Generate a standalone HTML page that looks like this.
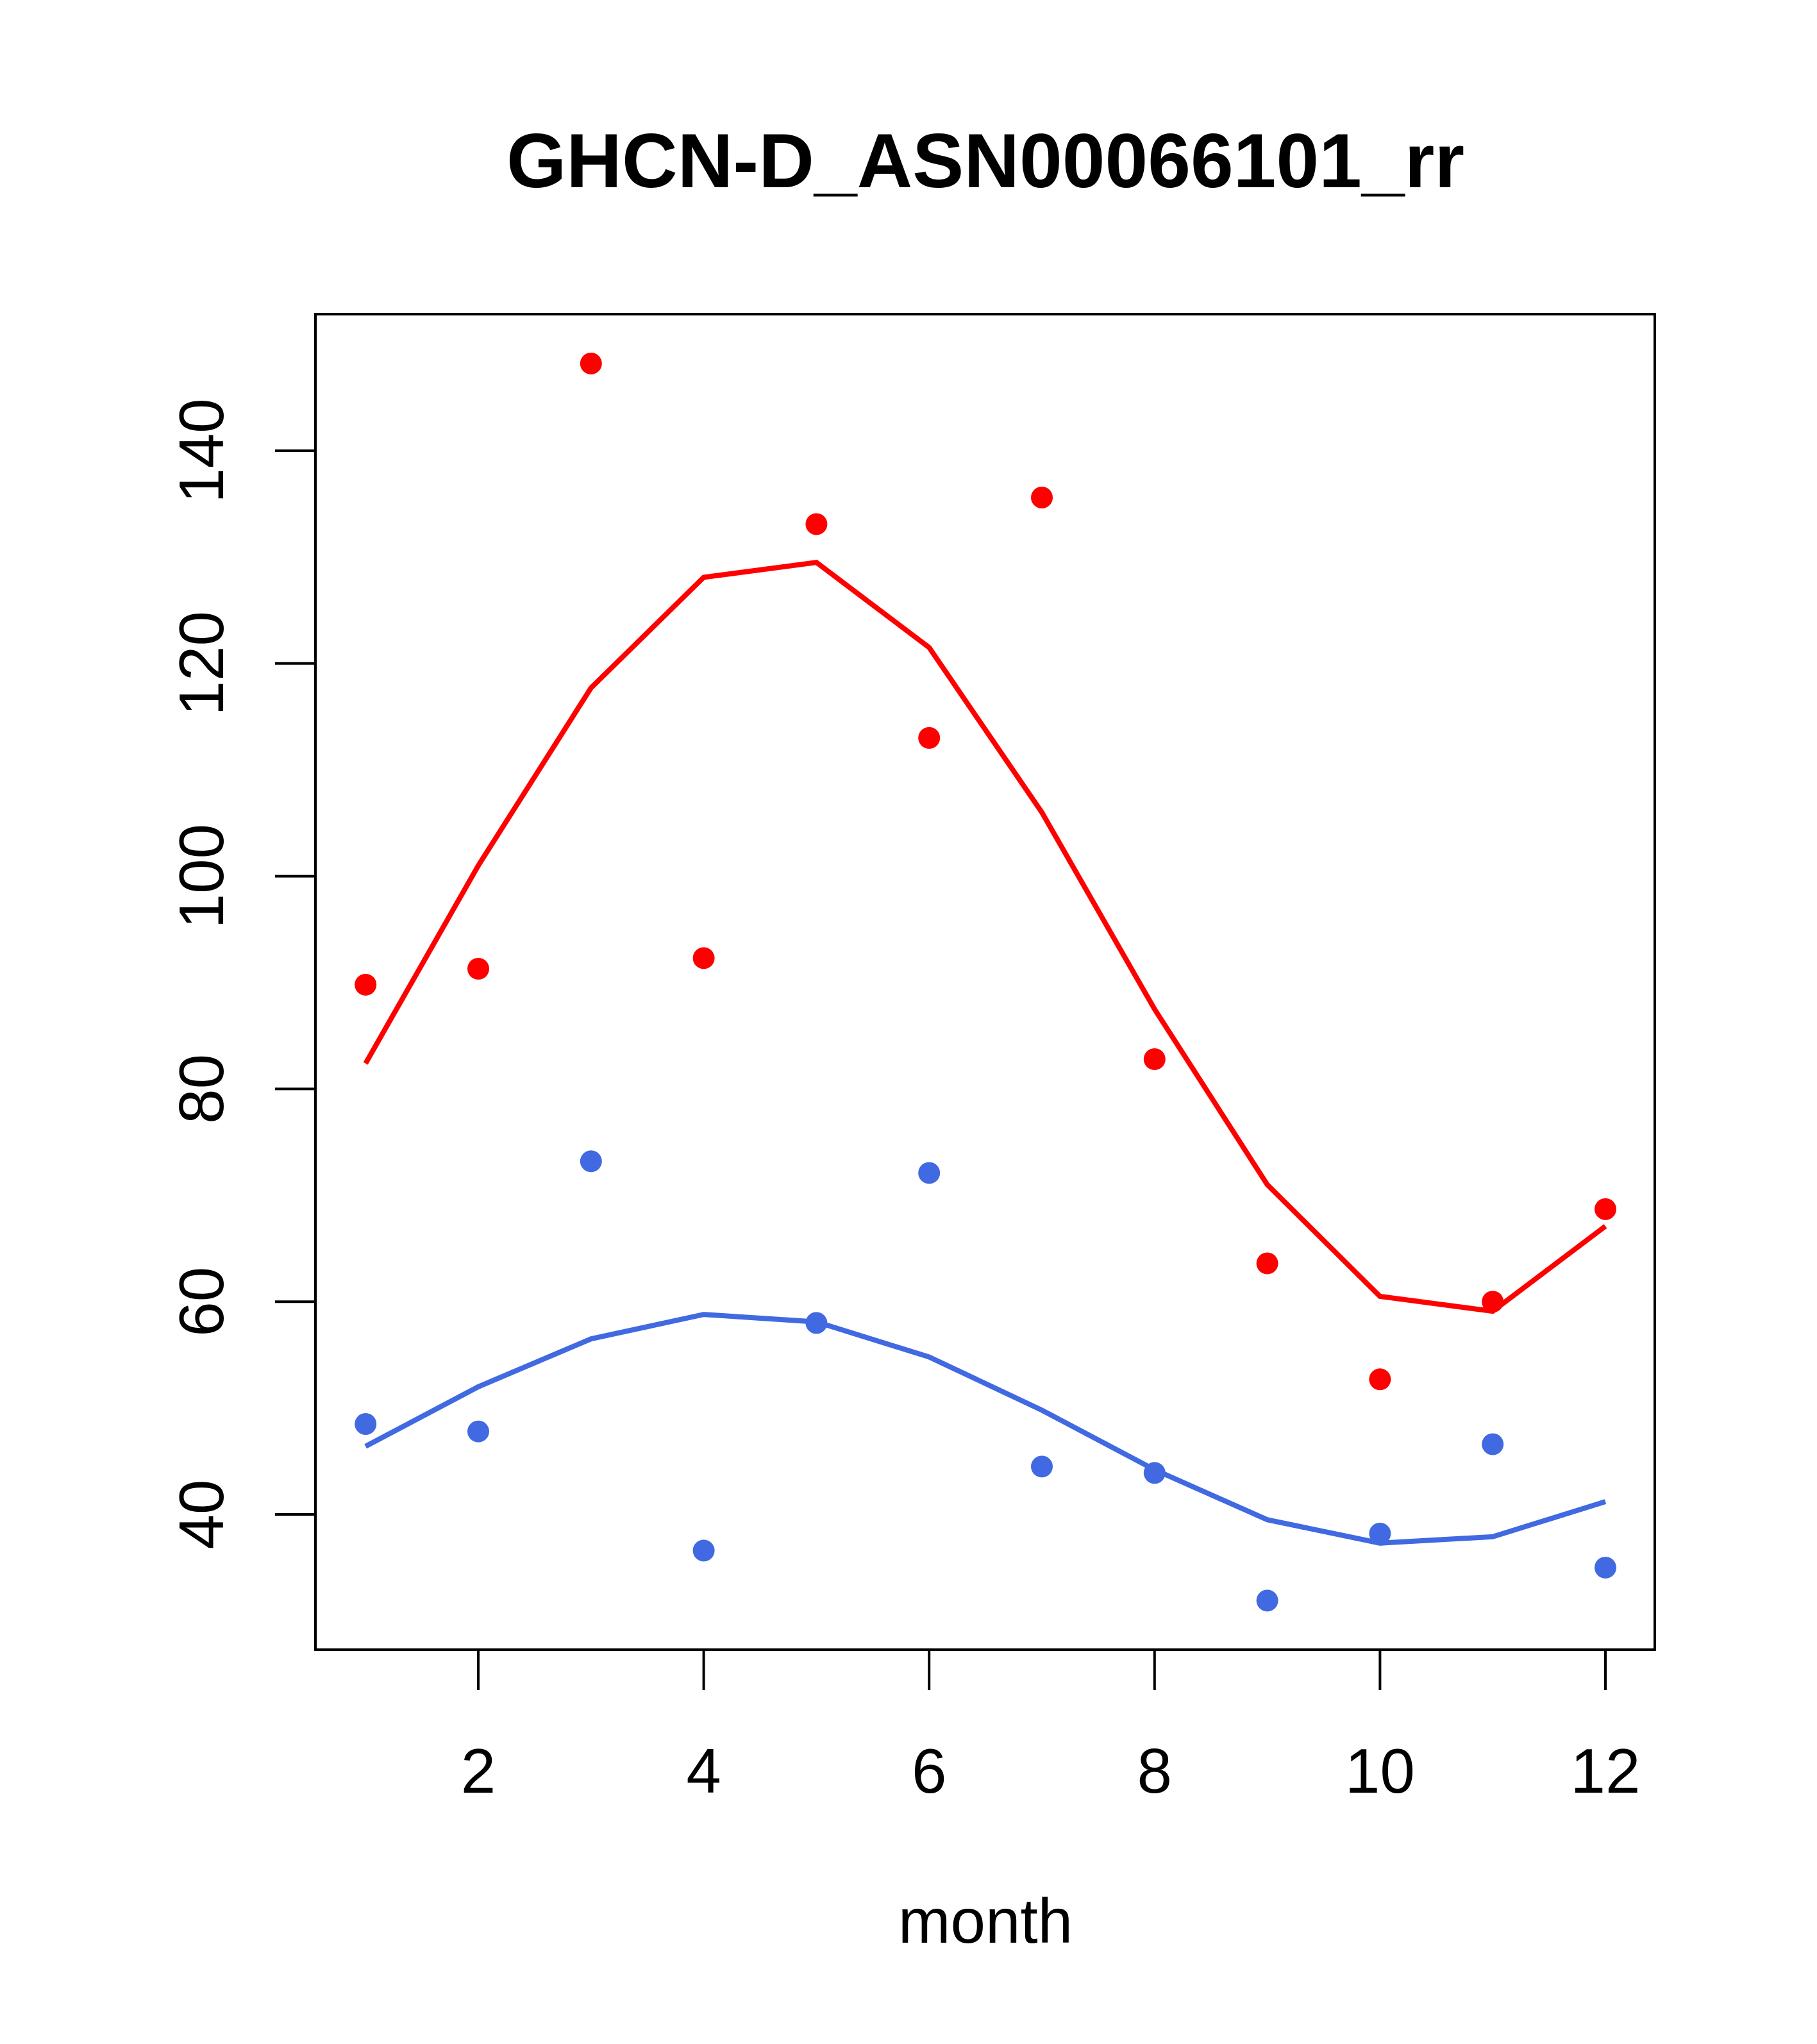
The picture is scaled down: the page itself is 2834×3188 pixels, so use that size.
<!DOCTYPE html>
<html><head><meta charset="utf-8"><style>body{margin:0;background:#fff}svg{display:block}</style></head>
<body>
<svg id="chart" width="2834" height="3188" viewBox="0 0 2834 3188" xmlns="http://www.w3.org/2000/svg" font-family="'Liberation Sans', sans-serif">
<rect width="2834" height="3188" fill="#fff"/>
<text x="1537" y="292" font-size="120" font-weight="bold" text-anchor="middle">GHCN-D_ASN00066101_rr</text>
<rect x="492" y="490" width="2089" height="2083" fill="none" stroke="#000" stroke-width="4"/>
<text x="1537" y="3030" font-size="98" text-anchor="middle">month</text>
<g id="g"></g>
</svg>
<script>
const months=[1,2,3,4,5,6,7,8,9,10,11,12];
const redPoints=[89.8,91.3,148.2,92.3,133.1,113,135.6,82.8,63.6,52.7,60,68.7];
const redLine=[82.4,101,117.7,128.1,129.5,121.5,106,87.5,71,60.5,59.1,67.1];
const bluePoints=[48.5,47.8,73.2,36.6,58,72.1,44.5,43.9,31.9,38.2,46.6,35];
const blueLine=[46.4,52,56.5,58.8,58.1,54.8,49.8,44.2,39.5,37.3,37.9,41.2];
const xTicks=[2,4,6,8,10,12];
const yTicks=[40,60,80,100,120,140];
const NS="http://www.w3.org/2000/svg";
const g=document.getElementById('g');
function X(v){return 746+(v-2)*175.8;}
function Y(v){return 2362-(v-40)*16.59;}
function mk(t,a){const e=document.createElementNS(NS,t);for(const k in a)e.setAttribute(k,a[k]);g.appendChild(e);return e;}
xTicks.forEach(t=>{
  const l=mk('line',{x1:X(t),x2:X(t),y1:2573,y2:2636,stroke:'#000','stroke-width':4});
  
  
  const tx=mk('text',{x:X(t),y:2796,'font-size':98,'text-anchor':'middle'});
  tx.textContent=t;
  
  
});
yTicks.forEach(t=>{
  const l=mk('line',{x1:429,x2:492,y1:Y(t),y2:Y(t),stroke:'#000','stroke-width':4});
  
  
  const tx=mk('text',{x:0,y:0,'font-size':98,'text-anchor':'middle',transform:`translate(348,${Y(t)}) rotate(-90)`});
  tx.textContent=t;
  
  
});
function line(vals,color,name){
  const p=mk('polyline',{points:vals.map((v,i)=>X(months[i])+','+Y(v)).join(' '),fill:'none',stroke:color,'stroke-width':8});
  
  
}
function pts(vals,color,name){
  vals.forEach((v,i)=>{
    const c=mk('circle',{cx:X(months[i]),cy:Y(v),r:17,fill:color});
    
    
  });
}
line(redLine,'#FF0000','red-smooth-line');
line(blueLine,'#4169E1','blue-smooth-line');
pts(redPoints,'#FF0000','red-point');
pts(bluePoints,'#4169E1','blue-point');
</script>
</body></html>
